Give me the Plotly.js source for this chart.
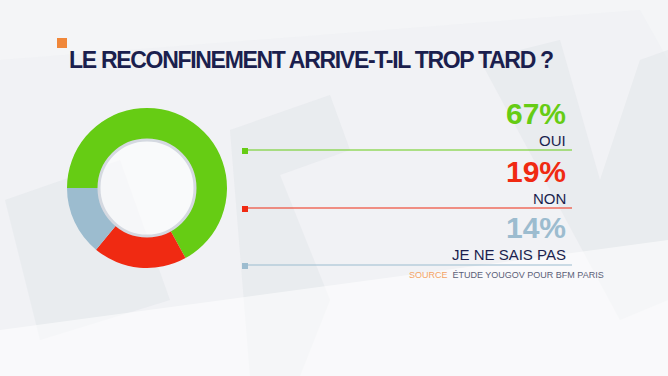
<!DOCTYPE html>
<html>
<head>
<meta charset="utf-8">
<script src="https://cdn.plot.ly/plotly-3.0.1.min.js"></script>
<style>
  html, body { margin: 0; padding: 0; background: #f4f5f7; }
  #chart { width: 668px; height: 376px; }
  .gtitle { letter-spacing: -1.3px; }
</style>
</head>
<body>
<div id="chart"></div>
<script>
// ---- Data ----
const categories = ["OUI", "NON", "JE NE SAIS PAS"];
const values = [67, 19, 14];
const sliceColors = ["#66cc14", "#f02a12", "#9cbccf"];
const titleText = "LE RECONFINEMENT ARRIVE-T-IL TROP TARD ?";
const sourceLabel = "SOURCE";
const sourceText = "ÉTUDE YOUGOV POUR BFM PARIS";

// ---- Layout helpers (pixel coordinates) ----
const W = 668, H = 376;
const navy = "#1b1f4e";
const cx = 147, cy = 188, R = 80;

const numberYs = [113, 171, 227.5];
const labelYs = [140, 198, 254];
const lineYs = [150, 208, 265];
const textRight = 568;

const annotations = [];
const shapes = [];

// faint watermark shapes
const wm = "rgba(226,229,233,0.5)";
shapes.push({type:"path", xref:"x", yref:"y", layer:"below",
  path:"M 0 60 L 640 10 L 668 60 L 668 376 L 0 376 Z", fillcolor:"rgba(238,240,243,0.5)", line:{width:0}});
shapes.push({type:"path", xref:"x", yref:"y", layer:"below",
  path:"M 5 200 L 120 160 L 170 300 L 40 340 Z", fillcolor:wm, line:{width:0}});
shapes.push({type:"path", xref:"x", yref:"y", layer:"below",
  path:"M 230 130 L 330 95 L 350 150 L 280 175 L 330 300 L 300 376 L 250 376 Z", fillcolor:wm, line:{width:0}});
shapes.push({type:"path", xref:"x", yref:"y", layer:"below",
  path:"M 480 60 L 560 40 L 600 180 L 640 60 L 668 50 L 668 300 L 620 320 Z", fillcolor:wm, line:{width:0}});
shapes.push({type:"path", xref:"x", yref:"y", layer:"below",
  path:"M 0 330 L 668 240 L 668 376 L 0 376 Z", fillcolor:"rgba(255,255,255,0.55)", line:{width:0}});

// orange title square
shapes.push({type:"rect", xref:"x", yref:"y", x0:57, x1:67, y0:38, y1:48,
  fillcolor:"#f0873a", line:{width:0}});

// inner hole ring
shapes.push({type:"circle", xref:"x", yref:"y", x0:cx-48, x1:cx+48, y0:cy-48, y1:cy+48,
  fillcolor:"rgba(255,255,255,0.6)", line:{color:"#d5d9e1", width:3}});

categories.forEach((cat, i) => {
  const col = sliceColors[i];
  annotations.push({xref:"x", yref:"y", x:textRight, y:numberYs[i], xanchor:"right", yanchor:"middle",
    text:"<b>"+values[i]+"%</b>", showarrow:false,
    font:{family:"Liberation Sans, Arial, sans-serif", size:30, color:col}});
  annotations.push({xref:"x", yref:"y", x:textRight, y:labelYs[i], xanchor:"right", yanchor:"middle",
    text:cat, showarrow:false,
    font:{family:"Liberation Sans, Arial, sans-serif", size:15, color:navy}});
  shapes.push({type:"line", xref:"x", yref:"y", x0:243, x1:572, y0:lineYs[i], y1:lineYs[i],
    line:{color:col, width:1.2}});
  shapes.push({type:"rect", xref:"x", yref:"y", x0:242, x1:248, y0:lineYs[i]-2, y1:lineYs[i]+4,
    fillcolor:col, line:{width:0}});
});

annotations.push({xref:"x", yref:"y", x:606, y:274.5, xanchor:"right", yanchor:"middle",
  text:"<span style='color:#f4a465'>"+sourceLabel+"</span>  "+sourceText, showarrow:false,
  font:{family:"Liberation Sans, Arial, sans-serif", size:9, color:"#5a6078"}});

const data = [{
  type:"pie",
  labels:categories,
  values:values,
  marker:{colors:sliceColors, line:{width:0}},
  hole:0.6,
  sort:false,
  direction:"clockwise",
  rotation:270,
  textinfo:"none",
  hoverinfo:"label+percent",
  showlegend:false,
  domain:{x:[(cx-R)/W, (cx+R)/W], y:[1-(cy+R)/H, 1-(cy-R)/H]}
}];

const layout = {
  width:W, height:H,
  margin:{l:0, r:0, t:0, b:0},
  paper_bgcolor:"#f4f5f7",
  plot_bgcolor:"rgba(0,0,0,0)",
  title:{text:"<b>"+titleText+"</b>", x:69/W, xanchor:"left", xref:"paper",
    y:1-59.5/H, yanchor:"middle", yref:"paper",
    font:{family:"Liberation Sans, Arial, sans-serif", size:23, color:navy}},
  xaxis:{range:[0,W], visible:false, fixedrange:true},
  yaxis:{range:[H,0], visible:false, fixedrange:true},
  shapes:shapes,
  annotations:annotations,
  showlegend:false
};

Plotly.newPlot("chart", data, layout, {displayModeBar:false, staticPlot:true});
</script>
</body>
</html>
